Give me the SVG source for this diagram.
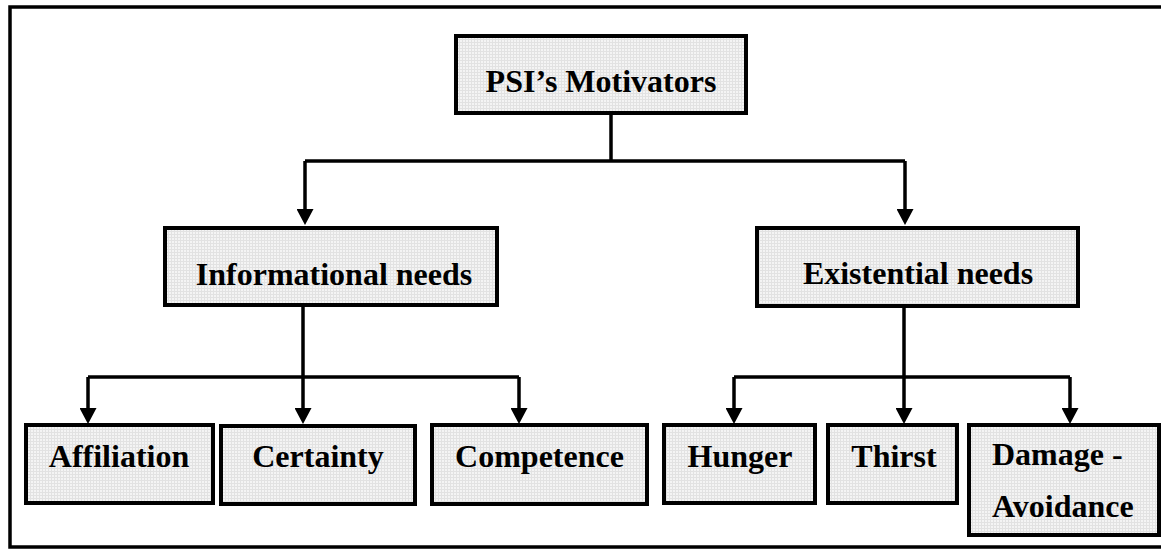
<svg xmlns="http://www.w3.org/2000/svg" width="1161" height="549" viewBox="0 0 1161 549">
<defs>
<marker id="ah" viewBox="0 0 16 17" refX="7" refY="8.5" markerWidth="16" markerHeight="17" markerUnits="userSpaceOnUse" orient="auto">
<path d="M0,0 L16,8.5 L0,17 z" fill="#000"/>
</marker>
<pattern id="grid" width="3" height="3" patternUnits="userSpaceOnUse">
<rect width="3" height="3" fill="#f4f4f4"/>
<path d="M0,0.5 H3 M0.5,0 V3" stroke="#e2e2e2" stroke-width="1"/>
</pattern>
</defs>
<style>
.box{fill:url(#grid);stroke:#000;stroke-width:4}
.lbl{font-family:"Liberation Serif","Times New Roman",serif;font-weight:bold;font-size:32px;fill:#000}
.c{text-anchor:middle}
.con{fill:none;stroke:#000;stroke-width:3.5}
</style>
<rect x="0" y="0" width="1161" height="549" fill="#fff"/>
<rect id="frame" x="10" y="7" width="1160" height="540" fill="none" stroke="#000" stroke-width="3.5"/>
<g id="connectors">
<path class="con" d="M611,113 V161"/>
<path class="con" d="M305,161 H905"/>
<path class="con" d="M305,161 V216" marker-end="url(#ah)"/>
<path class="con" d="M905,161 V216" marker-end="url(#ah)"/>
<path class="con" d="M303,306 V415" marker-end="url(#ah)"/>
<path class="con" d="M88,377 H519"/>
<path class="con" d="M88,377 V415" marker-end="url(#ah)"/>
<path class="con" d="M519,377 V415" marker-end="url(#ah)"/>
<path class="con" d="M904,306 V415" marker-end="url(#ah)"/>
<path class="con" d="M734,377 H1070"/>
<path class="con" d="M734,377 V415" marker-end="url(#ah)"/>
<path class="con" d="M1070,377 V415" marker-end="url(#ah)"/>
</g>
<g id="psi">
<rect class="box" x="456" y="36" width="290" height="77"/>
<text class="lbl c" x="601" y="92">PSI’s Motivators</text>
</g>
<g id="informational">
<rect class="box" x="165" y="228" width="332" height="77"/>
<text class="lbl c" x="334" y="285">Informational needs</text>
</g>
<g id="existential">
<rect class="box" x="757" y="228" width="321" height="78"/>
<text class="lbl c" x="918" y="284">Existential needs</text>
</g>
<g id="affiliation">
<rect class="box" x="26" y="425" width="187" height="78"/>
<text class="lbl c" x="119" y="467">Affiliation</text>
</g>
<g id="certainty">
<rect class="box" x="221" y="426" width="194" height="78"/>
<text class="lbl c" x="318" y="467">Certainty</text>
</g>
<g id="competence">
<rect class="box" x="432" y="425" width="215" height="79"/>
<text class="lbl c" x="539.5" y="467">Competence</text>
</g>
<g id="hunger">
<rect class="box" x="664" y="425" width="151" height="78"/>
<text class="lbl c" x="740" y="467">Hunger</text>
</g>
<g id="thirst">
<rect class="box" x="828" y="425" width="129" height="78"/>
<text class="lbl c" x="894" y="467">Thirst</text>
</g>
<g id="damage">
<rect class="box" x="969" y="425" width="190" height="110"/>
<text class="lbl" x="992" y="465">Damage -</text>
<text class="lbl" x="992" y="517">Avoidance</text>
</g>
</svg>
